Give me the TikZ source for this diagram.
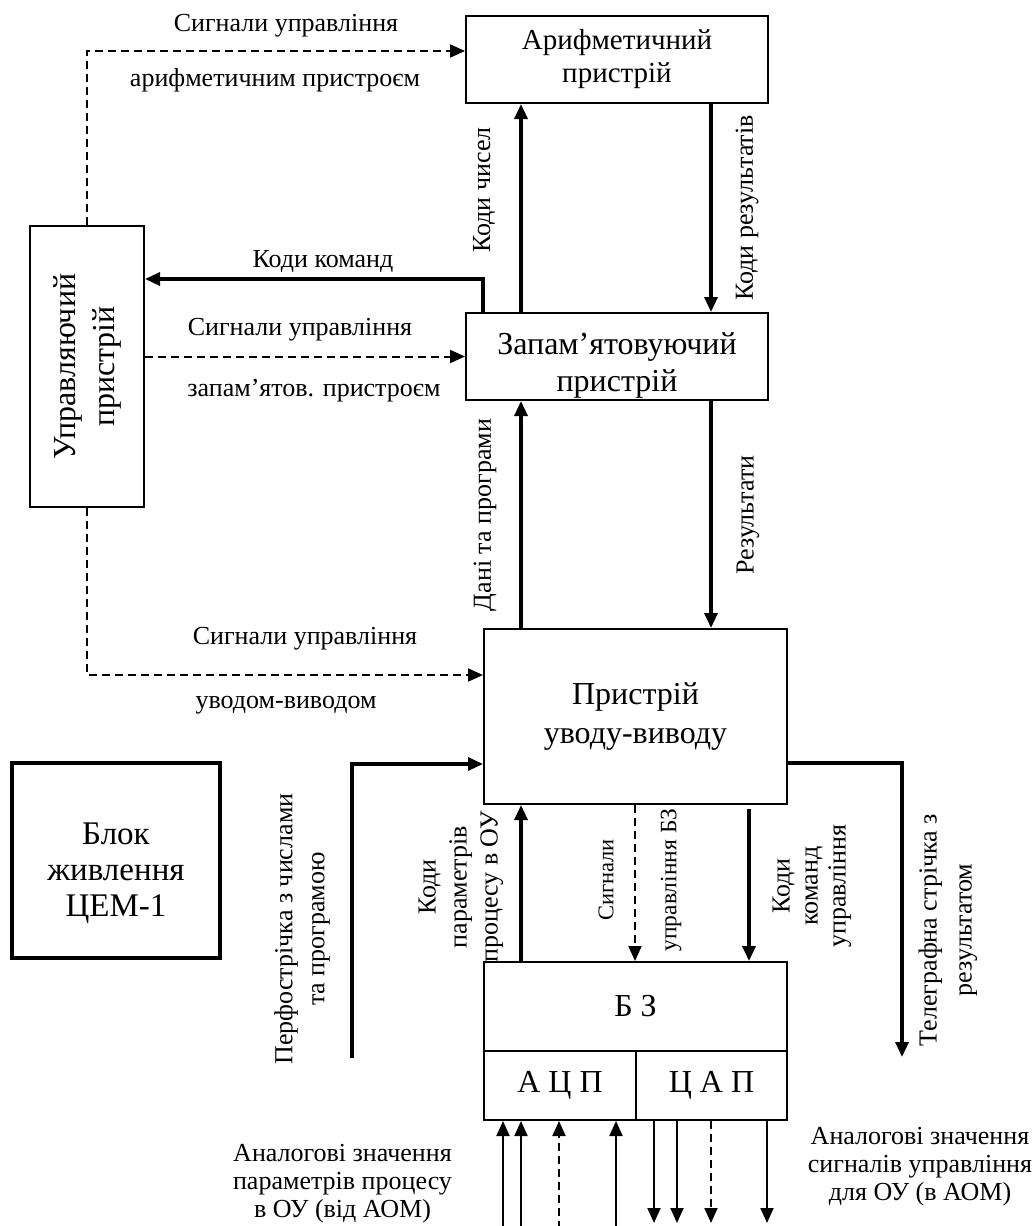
\documentclass[tikz,border=0pt]{standalone}
\usepackage{fontspec}
\setmainfont{Liberation Serif}
\usetikzlibrary{arrows.meta}

\begin{document}
\begin{tikzpicture}[x=1pt,y=-1pt,
  box/.style={draw,line width=2pt,align=center,font=\fontsize{29}{33}\selectfont},
  big/.style={box,font=\fontsize{32}{39}\selectfont},
  lab/.style={align=center,font=\fontsize{26}{#1}\selectfont},lab/.default=30,
  flow/.style={line width=3.2pt,-{Triangle[length=15pt,width=13pt]}},
  wire/.style={line width=2pt,-{Triangle[length=15pt,width=13pt]}},
  ctl/.style={wire,dash pattern=on 8pt off 5pt}]
\useasboundingbox (0,0) rectangle (1031,1226);
\node[box,minimum width=302pt,minimum height=87pt] (arith) at (617,59.5) {Арифметичний\\пристрій};
\node[box,minimum width=302pt,minimum height=87pt,inner ysep=0pt,font=\fontsize{32}{37}\selectfont] (mem) at (617,356.5) {\rule{0pt}{39pt}Запам’ятовуючий\\пристрій};
\node[big,minimum width=114pt,minimum height=281pt] (ctrl) at (87,366.5)
  {\rotatebox{90}{\begin{tabular}{@{}c@{}}Управляючий\\пристрій\end{tabular}}};
\node[big,minimum width=303pt,minimum height=175pt] (io) at (635.5,716.5) {Пристрій\\уводу-виводу};
\node[big,line width=4pt,minimum width=208pt,minimum height=195pt,font=\fontsize{33}{36}\selectfont] (pwr) at (116,860.5) {\rule{0pt}{47pt}Блок\\живлення\\ЦЕМ-1};
\node[box,minimum width=303pt,minimum height=89pt,font=\fontsize{32}{36}\selectfont] (bz) at (635.5,1006.5) {Б З};
\node[box,minimum width=152pt,minimum height=69pt,font=\fontsize{32}{36}\selectfont] (adc) at (560,1085.5) {А Ц П};
\node[box,minimum width=151pt,minimum height=69pt,font=\fontsize{32}{36}\selectfont] (dac) at (711.5,1085.5) {Ц А П};
\coordinate (perf) at (352,1058);
\coordinate (tape) at (902,1057);

\draw[ctl] (ctrl.north) |- ([yshift=8.5pt]arith.west);
\draw[ctl] (mem.west -| ctrl.east) -- (mem.west);
\draw[ctl] (ctrl.south) |- ([yshift=41.5pt]io.west);
\draw[flow] ([xshift=18pt]mem.north west) |- ([yshift=87.5pt]ctrl.east);
\draw[flow] ([xshift=56pt]mem.north west) -- ([xshift=56pt]arith.south west);
\draw[flow] ([xshift=246pt]arith.south west) -- ([xshift=246pt]mem.north west);
\draw[flow] ([xshift=38pt]io.north west) -- ([xshift=56pt]mem.south west);
\draw[flow] ([xshift=246pt]mem.south west) -- ([xshift=228pt]io.north west);
\draw[flow] (perf) |- ([yshift=-47.5pt]io.west);
\draw[flow] ([yshift=-46.5pt]io.east) -| (tape);
\draw[flow] ([xshift=38pt]bz.north west) -- ([xshift=38pt]io.south west);
\draw[ctl] ([xshift=152pt]io.south west) -- ([xshift=152pt]bz.north west);
\draw[flow] ([xshift=266pt,yshift=-4pt]io.south west) -- ([xshift=266pt]bz.north west);
\foreach \dx in {20,38,133}
  \draw[wire] ([xshift=\dx pt,yshift=-108pt]adc.south west) -- ([xshift=\dx pt]adc.south west);
\draw[ctl] ([xshift=76pt,yshift=-108pt]adc.south west) -- ([xshift=76pt]adc.south west);
\foreach \dx in {19,42,132}
  \draw[wire] ([xshift=\dx pt]dac.south west) -- ([xshift=\dx pt,yshift=-102pt]dac.south west);
\draw[ctl] ([xshift=76pt]dac.south west) -- ([xshift=76pt,yshift=-102pt]dac.south west);

\node[lab] (l1a) at (286,26) {Сигнали управління};
\node[lab] (l1b) at (275,80) {арифметичним пристроєм};
\node[lab] (l2) at (323,261) {Коди команд};
\node[lab] (l3a) at (300,330) {Сигнали управління};
\node[lab] (l3b) at (314,391) {запам’ятов. пристроєм};
\node[lab] (l4a) at (305,639) {Сигнали управління};
\node[lab] (l4b) at (286,705) {уводом-виводом};
\node[lab,rotate=90] (l5) at (484,190) {Коди чисел};
\node[lab,rotate=90] (l6) at (747,208) {Коди результатів};
\node[lab,rotate=90] (l7) at (485,515) {Дані та програми};
\node[lab,rotate=90] (l8) at (748,515) {Результати};
\node[lab=32,rotate=90] (l9) at (302,929) {Перфострічка з числами\\та програмою};
\node[lab=31,rotate=90] (l10) at (461,887) {Коди\\параметрів\\процесу в ОУ};
\node[lab,rotate=90,font=\fontsize{22.5}{25}\selectfont] (l11a) at (606,880) {Сигнали};
\node[lab,rotate=90,font=\fontsize{23.5}{25}\selectfont] (l11b) at (671,880) {управління БЗ};
\node[lab=28,rotate=90] (l12) at (812,886) {Коди\\команд\\управління};
\node[lab=35,rotate=90] (l13) at (948,930) {Телеграфна стрічка з\\результатом};
\node[lab=28] (l14) at (342.5,1184) {Аналогові значення\\параметрів процесу\\в ОУ (від АОМ)};
\node[lab=28] (l15) at (920,1167) {Аналогові значення\\сигналів управління\\для ОУ (в АОМ)};
\end{tikzpicture}
\end{document}
